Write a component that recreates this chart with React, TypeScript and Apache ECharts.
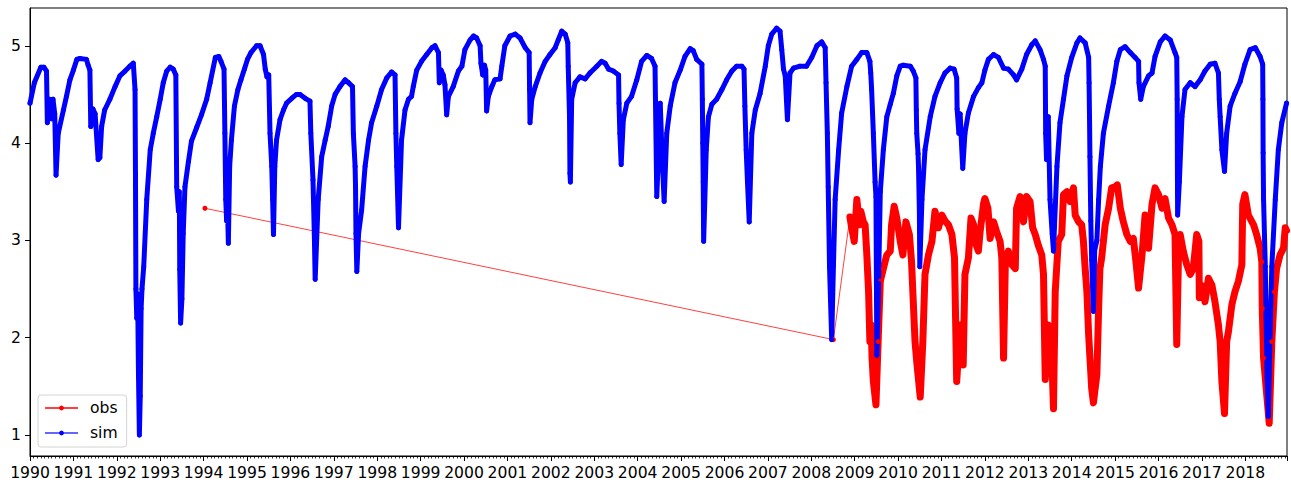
import React, { useEffect, useRef } from "react";
import * as echarts from "echarts";

// decimal year, value
const SIM: [number, number][] = [
  [1990.0, 4.41], [1990.1, 4.62], [1990.25, 4.78], [1990.32, 4.78], [1990.38, 4.74], [1990.4, 4.21],
  [1990.45, 4.45], [1990.5, 4.25], [1990.53, 4.45], [1990.57, 4.3], [1990.6, 3.67], [1990.65, 4.1],
  [1990.77, 4.34], [1990.84, 4.48], [1990.92, 4.65], [1991.0, 4.75], [1991.08, 4.86], [1991.15, 4.87],
  [1991.3, 4.86], [1991.34, 4.8], [1991.38, 4.75], [1991.4, 4.17], [1991.45, 4.35], [1991.5, 4.3],
  [1991.57, 3.83], [1991.61, 3.85], [1991.65, 4.17], [1991.72, 4.34], [1991.84, 4.45], [1991.96, 4.58],
  [1992.07, 4.69], [1992.19, 4.74], [1992.3, 4.79], [1992.38, 4.82], [1992.42, 4.55], [1992.43, 3.7],
  [1992.44, 2.5], [1992.46, 2.2], [1992.48, 2.45], [1992.5, 1.6], [1992.52, 1.0], [1992.54, 1.4],
  [1992.56, 2.3], [1992.58, 2.5], [1992.62, 2.73], [1992.69, 3.42], [1992.77, 3.93], [1992.84, 4.1],
  [1992.92, 4.27], [1993.0, 4.45], [1993.07, 4.62], [1993.15, 4.74], [1993.23, 4.78], [1993.3, 4.76],
  [1993.36, 4.7], [1993.38, 3.55], [1993.42, 3.3], [1993.44, 3.5], [1993.45, 2.7], [1993.47, 2.15],
  [1993.5, 2.4], [1993.53, 3.07], [1993.57, 3.55], [1993.65, 3.81], [1993.72, 4.02], [1993.84, 4.16],
  [1993.95, 4.29], [1994.07, 4.45], [1994.15, 4.62], [1994.27, 4.88], [1994.35, 4.89], [1994.4, 4.84],
  [1994.47, 4.76], [1994.49, 4.1], [1994.51, 3.42], [1994.53, 3.2], [1994.55, 3.35], [1994.57, 2.97],
  [1994.6, 3.76], [1994.64, 4.03], [1994.71, 4.38], [1994.79, 4.55], [1994.86, 4.65], [1994.94, 4.76],
  [1995.01, 4.86], [1995.09, 4.93], [1995.22, 5.0], [1995.3, 5.0], [1995.38, 4.91], [1995.42, 4.76],
  [1995.46, 4.68], [1995.5, 4.7], [1995.53, 4.1], [1995.57, 3.76], [1995.59, 3.42], [1995.61, 3.06],
  [1995.64, 3.76], [1995.68, 4.03], [1995.76, 4.24], [1995.84, 4.34], [1995.91, 4.41], [1996.03, 4.46],
  [1996.14, 4.5], [1996.22, 4.5], [1996.34, 4.46], [1996.45, 4.43], [1996.47, 4.1], [1996.52, 3.62],
  [1996.55, 3.07], [1996.57, 2.6], [1996.64, 3.42], [1996.72, 3.86], [1996.8, 4.03], [1996.87, 4.17],
  [1996.95, 4.38], [1997.03, 4.5], [1997.14, 4.58], [1997.26, 4.65], [1997.34, 4.62], [1997.43, 4.58],
  [1997.45, 4.1], [1997.49, 3.76], [1997.5, 3.55], [1997.51, 3.07], [1997.53, 2.68], [1997.57, 3.07],
  [1997.64, 3.31], [1997.72, 3.76], [1997.8, 4.03], [1997.87, 4.21], [1997.99, 4.38], [1998.1, 4.55],
  [1998.22, 4.67], [1998.33, 4.73], [1998.41, 4.7], [1998.43, 4.1], [1998.45, 3.76], [1998.49, 3.13],
  [1998.56, 4.03], [1998.64, 4.34], [1998.72, 4.45], [1998.79, 4.48], [1998.83, 4.58], [1998.91, 4.75],
  [1999.02, 4.84], [1999.14, 4.91], [1999.26, 4.98], [1999.33, 5.0], [1999.41, 4.93], [1999.43, 4.62],
  [1999.47, 4.75], [1999.52, 4.7], [1999.56, 4.6], [1999.6, 4.29], [1999.64, 4.48], [1999.75, 4.58],
  [1999.87, 4.74], [1999.95, 4.79], [2000.02, 4.96], [2000.14, 5.06], [2000.22, 5.1], [2000.29, 5.08],
  [2000.37, 5.0], [2000.39, 4.82], [2000.43, 4.7], [2000.47, 4.8], [2000.5, 4.75], [2000.52, 4.33],
  [2000.56, 4.48], [2000.64, 4.58], [2000.71, 4.65], [2000.83, 4.66], [2000.87, 4.79], [2000.94, 5.0],
  [2001.06, 5.1], [2001.18, 5.12], [2001.29, 5.08], [2001.41, 4.98], [2001.5, 4.93], [2001.51, 4.55],
  [2001.52, 4.21], [2001.56, 4.45], [2001.64, 4.58], [2001.75, 4.72], [2001.87, 4.84], [2001.98, 4.91],
  [2002.1, 4.98], [2002.17, 5.06], [2002.25, 5.15], [2002.33, 5.12], [2002.39, 5.03], [2002.4, 4.79],
  [2002.43, 4.27], [2002.44, 3.69], [2002.45, 3.6], [2002.48, 4.45], [2002.56, 4.62], [2002.67, 4.68],
  [2002.79, 4.66], [2002.9, 4.72], [2003.06, 4.79], [2003.17, 4.84], [2003.25, 4.82], [2003.33, 4.76],
  [2003.44, 4.74], [2003.56, 4.7], [2003.57, 4.41], [2003.59, 4.1], [2003.62, 3.78], [2003.67, 4.24],
  [2003.75, 4.41], [2003.86, 4.48], [2003.98, 4.65], [2004.09, 4.84], [2004.21, 4.9], [2004.32, 4.87],
  [2004.4, 4.79], [2004.41, 4.45], [2004.44, 3.45], [2004.48, 3.9], [2004.52, 4.41], [2004.56, 3.9],
  [2004.61, 3.4], [2004.67, 4.1], [2004.75, 4.38], [2004.86, 4.62], [2004.98, 4.75], [2005.09, 4.89],
  [2005.21, 4.97], [2005.28, 4.95], [2005.36, 4.86], [2005.48, 4.81], [2005.49, 4.45], [2005.5, 4.0],
  [2005.51, 3.6], [2005.52, 2.99], [2005.58, 3.93], [2005.63, 4.27], [2005.71, 4.4], [2005.82, 4.45],
  [2005.94, 4.55], [2006.05, 4.65], [2006.17, 4.74], [2006.28, 4.79], [2006.4, 4.79], [2006.45, 4.76],
  [2006.47, 4.38], [2006.5, 3.93], [2006.53, 3.6], [2006.57, 3.19], [2006.63, 4.1], [2006.71, 4.34],
  [2006.82, 4.51], [2006.94, 4.79], [2007.01, 5.0], [2007.09, 5.12], [2007.2, 5.18], [2007.28, 5.15],
  [2007.32, 4.96], [2007.36, 4.76], [2007.4, 4.69], [2007.45, 4.24], [2007.51, 4.72], [2007.59, 4.77],
  [2007.74, 4.79], [2007.89, 4.79], [2008.01, 4.88], [2008.13, 5.0], [2008.24, 5.04], [2008.32, 4.98],
  [2008.34, 4.62], [2008.37, 4.1], [2008.39, 3.55], [2008.42, 2.73], [2008.47, 1.98], [2008.51, 2.73],
  [2008.55, 3.42], [2008.63, 3.93], [2008.7, 4.31], [2008.82, 4.58], [2008.93, 4.79], [2009.05, 4.86],
  [2009.16, 4.93], [2009.28, 4.93], [2009.35, 4.84], [2009.37, 4.72], [2009.39, 4.55], [2009.43, 4.1],
  [2009.47, 3.6], [2009.49, 3.45], [2009.51, 1.82], [2009.55, 2.56], [2009.59, 3.5], [2009.66, 3.93],
  [2009.74, 4.27], [2009.82, 4.4], [2009.89, 4.51], [2009.97, 4.69], [2010.05, 4.79], [2010.12, 4.8],
  [2010.28, 4.79], [2010.35, 4.74], [2010.41, 4.67], [2010.42, 4.34], [2010.43, 4.1], [2010.46, 3.89],
  [2010.47, 3.76], [2010.49, 3.31], [2010.5, 2.73], [2010.55, 3.42], [2010.62, 3.93], [2010.74, 4.27],
  [2010.85, 4.48], [2010.97, 4.62], [2011.08, 4.72], [2011.2, 4.77], [2011.29, 4.76], [2011.35, 4.67],
  [2011.36, 4.35], [2011.4, 4.1], [2011.43, 4.3], [2011.46, 4.0], [2011.49, 3.74], [2011.54, 4.1],
  [2011.62, 4.31], [2011.74, 4.48], [2011.85, 4.57], [2011.93, 4.62], [2012.0, 4.75], [2012.08, 4.86],
  [2012.2, 4.91], [2012.31, 4.88], [2012.43, 4.77], [2012.54, 4.76], [2012.66, 4.7], [2012.73, 4.65],
  [2012.85, 4.76], [2012.96, 4.91], [2013.08, 5.01], [2013.16, 5.05], [2013.27, 4.96], [2013.35, 4.86],
  [2013.39, 4.79], [2013.4, 4.1], [2013.42, 3.83], [2013.46, 4.27], [2013.5, 3.42], [2013.55, 3.07],
  [2013.58, 2.89], [2013.66, 3.76], [2013.73, 4.21], [2013.81, 4.45], [2013.89, 4.69], [2014.0, 4.88],
  [2014.12, 5.03], [2014.19, 5.08], [2014.31, 5.03], [2014.39, 4.88], [2014.4, 4.62], [2014.41, 4.27],
  [2014.42, 3.86], [2014.44, 3.2], [2014.46, 2.8], [2014.5, 2.27], [2014.53, 2.9], [2014.58, 3.0],
  [2014.62, 3.42], [2014.66, 3.76], [2014.73, 4.1], [2014.85, 4.38], [2014.96, 4.62], [2015.04, 4.84],
  [2015.12, 4.96], [2015.23, 4.99], [2015.35, 4.93], [2015.46, 4.88], [2015.54, 4.84], [2015.55, 4.62],
  [2015.59, 4.45], [2015.65, 4.58], [2015.77, 4.69], [2015.85, 4.72], [2015.92, 4.89], [2016.04, 5.04],
  [2016.15, 5.1], [2016.27, 5.06], [2016.38, 4.93], [2016.42, 4.88], [2016.43, 4.45], [2016.435, 3.76],
  [2016.44, 3.26], [2016.48, 3.6], [2016.54, 4.27], [2016.61, 4.55], [2016.73, 4.62], [2016.84, 4.58],
  [2016.96, 4.65], [2017.07, 4.74], [2017.19, 4.81], [2017.3, 4.82], [2017.38, 4.72], [2017.4, 4.45],
  [2017.42, 4.27], [2017.46, 3.93], [2017.52, 3.71], [2017.57, 4.1], [2017.65, 4.38], [2017.76, 4.51],
  [2017.88, 4.63], [2017.99, 4.81], [2018.11, 4.96], [2018.23, 4.98], [2018.34, 4.89], [2018.4, 4.81],
  [2018.405, 4.45], [2018.41, 3.9], [2018.42, 3.42], [2018.46, 2.73], [2018.5, 1.6], [2018.53, 1.19],
  [2018.57, 2.05], [2018.61, 2.73], [2018.69, 3.42], [2018.76, 3.93], [2018.84, 4.21], [2018.95, 4.41],
];

const OBS: [number, number][] = [
  [1994.03, 3.33], [2008.51, 1.98], [2008.89, 3.24], [2008.93, 3.13], [2008.99, 2.99], [2009.05, 3.42],
  [2009.11, 3.16], [2009.14, 3.3], [2009.2, 3.19], [2009.24, 3.16], [2009.28, 2.85], [2009.32, 2.47],
  [2009.35, 1.96], [2009.38, 2.13], [2009.4, 1.79], [2009.43, 1.55], [2009.49, 1.31], [2009.54, 1.96],
  [2009.59, 2.58], [2009.66, 2.71], [2009.74, 2.85], [2009.82, 2.89], [2009.85, 3.16], [2009.91, 3.35],
  [2009.97, 3.23], [2010.05, 2.99], [2010.11, 2.85], [2010.18, 3.19], [2010.26, 3.06], [2010.31, 2.78],
  [2010.34, 2.47], [2010.39, 1.96], [2010.43, 1.75], [2010.51, 1.39], [2010.57, 1.96], [2010.62, 2.65],
  [2010.7, 2.85], [2010.78, 2.99], [2010.85, 3.3], [2010.93, 3.13], [2011.01, 3.26], [2011.08, 3.2],
  [2011.16, 3.16], [2011.24, 3.06], [2011.3, 2.82], [2011.35, 1.55], [2011.43, 2.13], [2011.5, 1.72],
  [2011.54, 2.65], [2011.62, 2.82], [2011.68, 3.23], [2011.74, 3.16], [2011.77, 2.99], [2011.85, 2.89],
  [2011.89, 3.09], [2011.97, 3.38], [2012.0, 3.43], [2012.07, 3.33], [2012.12, 3.02], [2012.2, 3.19],
  [2012.27, 3.09], [2012.35, 2.99], [2012.39, 2.82], [2012.43, 1.79], [2012.47, 2.75], [2012.54, 2.89],
  [2012.62, 2.75], [2012.7, 2.71], [2012.73, 3.33], [2012.81, 3.45], [2012.89, 3.19], [2012.96, 3.45],
  [2013.04, 3.4], [2013.1, 3.13], [2013.16, 3.06], [2013.23, 2.95], [2013.31, 2.85], [2013.35, 2.65],
  [2013.39, 1.57], [2013.46, 2.13], [2013.53, 1.96], [2013.58, 1.27], [2013.62, 2.47], [2013.69, 2.99],
  [2013.77, 3.06], [2013.81, 3.47], [2013.89, 3.5], [2013.96, 3.4], [2014.04, 3.54], [2014.08, 3.26],
  [2014.16, 3.19], [2014.23, 3.16], [2014.27, 2.99], [2014.31, 2.71], [2014.35, 2.47], [2014.39, 2.03],
  [2014.46, 1.48], [2014.5, 1.33], [2014.58, 1.62], [2014.62, 2.3], [2014.65, 2.71], [2014.69, 2.82],
  [2014.77, 3.16], [2014.85, 3.33], [2014.92, 3.54], [2015.0, 3.55], [2015.05, 3.57], [2015.12, 3.33],
  [2015.19, 3.19], [2015.27, 3.06], [2015.35, 2.99], [2015.42, 3.02], [2015.48, 2.78], [2015.54, 2.51],
  [2015.62, 2.85], [2015.69, 3.26], [2015.77, 2.92], [2015.85, 3.37], [2015.92, 3.54], [2016.0, 3.47],
  [2016.08, 3.33], [2016.15, 3.43], [2016.23, 3.23], [2016.31, 3.16], [2016.38, 3.06], [2016.42, 1.93],
  [2016.46, 2.85], [2016.5, 3.06], [2016.57, 2.89], [2016.65, 2.75], [2016.73, 2.65], [2016.8, 2.71],
  [2016.88, 3.06], [2016.93, 2.99], [2016.94, 2.41], [2016.99, 2.54], [2017.07, 2.37], [2017.15, 2.61],
  [2017.23, 2.54], [2017.3, 2.37], [2017.38, 2.13], [2017.42, 1.96], [2017.46, 1.55], [2017.52, 1.22],
  [2017.57, 1.96], [2017.61, 2.06], [2017.69, 2.34], [2017.76, 2.47], [2017.84, 2.58], [2017.92, 2.75],
  [2017.94, 3.37], [2017.99, 3.47], [2018.07, 3.26], [2018.19, 3.16], [2018.26, 3.06], [2018.34, 2.92],
  [2018.38, 2.78], [2018.39, 2.3], [2018.42, 1.79], [2018.55, 1.12], [2018.61, 1.96], [2018.67, 2.47],
  [2018.72, 2.71], [2018.8, 2.85], [2018.88, 2.92], [2018.92, 3.13], [2018.95, 3.1],
];

const Y_TICKS = [1, 2, 3, 4, 5];
const X_MIN = 1990;
const X_MAX = 2018.96;
const Y_MIN = 0.784;
const Y_MAX = 5.388;

const FONT = "'DejaVu Sans', sans-serif";
const FS = 15.6;

export default function App() {
  const ref = useRef<HTMLDivElement>(null);
  useEffect(() => {
    if (!ref.current) return;
    const chart = echarts.init(ref.current, undefined, { renderer: "svg" });
    const option: any = {
      animation: false,
      textStyle: { fontFamily: FONT, fontSize: FS },
      grid: {
        left: 30,
        right: 4,
        top: 8,
        bottom: 28,
        show: true,
        borderColor: "#000",
        borderWidth: 1,
        backgroundColor: "#fff",
      },
      legend: {
        data: ["obs", "sim"],
        orient: "vertical",
        left: 38,
        top: 395,
        itemWidth: 33,
        itemHeight: 6,
        itemGap: 7,
        padding: [4, 9, 5, 6],
        borderColor: "#d4d4d4",
        borderWidth: 1,
        borderRadius: 3,
        backgroundColor: "rgba(255,255,255,0.8)",
        textStyle: {
          fontSize: FS,
          fontFamily: FONT,
          color: "#000",
          lineHeight: 18,
          padding: [0, 0, 0, 7],
        },
      },
      xAxis: {
        type: "value",
        min: X_MIN,
        max: X_MAX,
        interval: 1,
        axisLine: { lineStyle: { color: "#000", width: 1 } },
        axisTick: { length: 5, lineStyle: { color: "#000", width: 1 } },
        minorTick: { show: true, splitNumber: 12, length: 2.5, lineStyle: { color: "#000", width: 0.8 } },
        splitLine: { show: false },
        minorSplitLine: { show: false },
        axisLabel: {
          color: "#000",
          fontSize: FS,
          fontFamily: FONT,
          margin: 9,
          showMaxLabel: false,
          formatter: (v: number) =>
            Math.abs(v - Math.round(v)) < 1e-6 ? String(Math.round(v)) : "",
        },
      },
      yAxis: {
        type: "value",
        min: Y_MIN,
        max: Y_MAX,
        axisLine: { show: true, lineStyle: { color: "#000", width: 1 } },
        axisTick: { show: true, length: 5, customValues: Y_TICKS, lineStyle: { color: "#000" } },
        splitLine: { show: false },
        axisLabel: {
          customValues: Y_TICKS,
          color: "#000",
          fontSize: FS,
          fontFamily: FONT,
          margin: 9,
        },
      },
      series: [
        {
          name: "obs-band",
          type: "line",
          data: OBS.slice(2),
          symbol: "none",
          silent: true,
          lineStyle: { color: "#ff0000", width: 7, join: "round", cap: "round" },
          itemStyle: { color: "#ff0000" },
        },
        {
          name: "obs",
          type: "line",
          data: OBS,
          symbol: "circle",
          symbolSize: 5,
          showAllSymbol: true,
          lineStyle: { color: "#ff0000", width: 1, opacity: 0.75 },
          itemStyle: { color: "#ff0000" },
        },
        {
          name: "sim-band",
          type: "line",
          data: SIM,
          symbol: "none",
          silent: true,
          lineStyle: { color: "#0000ff", width: 5, join: "round", cap: "round" },
          itemStyle: { color: "#0000ff" },
        },
        {
          name: "sim",
          type: "line",
          data: SIM,
          symbol: "circle",
          symbolSize: 5,
          showAllSymbol: true,
          lineStyle: { color: "#0000ff", width: 1, opacity: 0.6 },
          itemStyle: { color: "#0000ff" },
        },
      ],
    };
    chart.setOption(option);
    return () => chart.dispose();
  }, []);
  return (
    <div
      ref={ref}
      style={{ position: "fixed", left: 0, top: 0, width: 1291, height: 484, background: "#fff" }}
    />
  );
}
